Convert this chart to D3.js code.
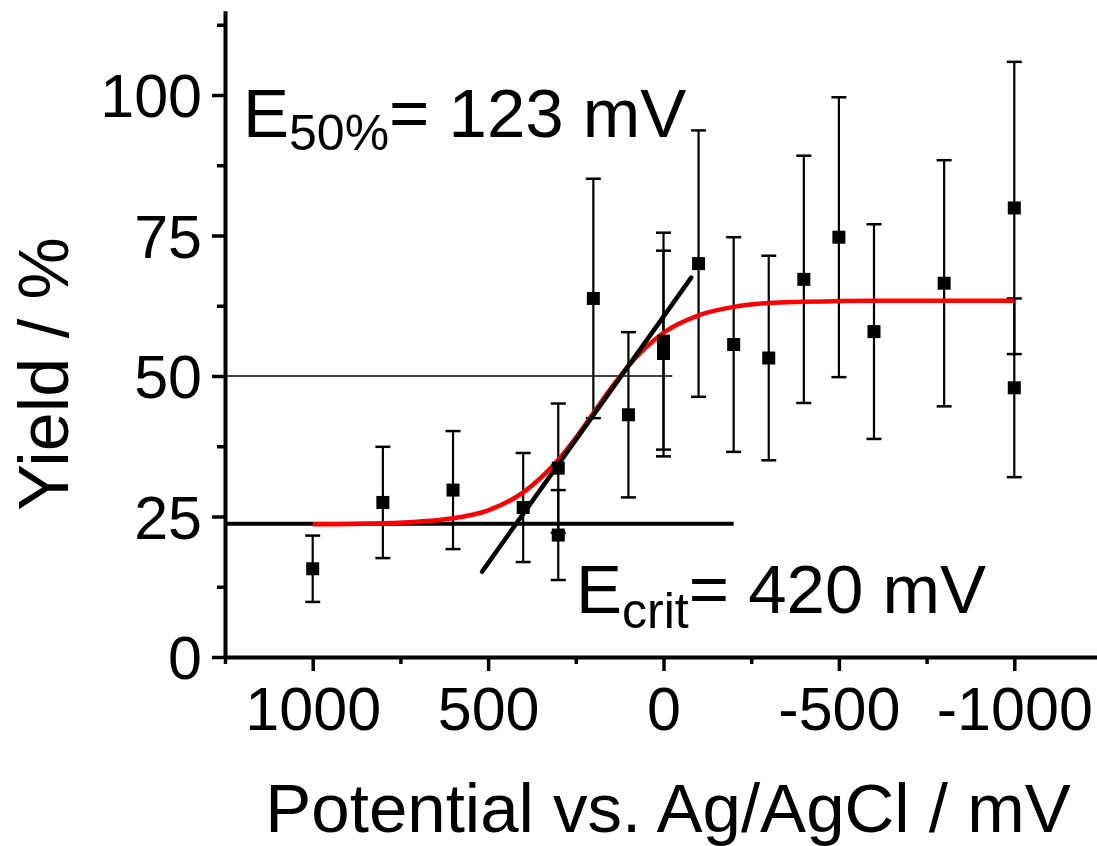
<!DOCTYPE html>
<html>
<head>
<meta charset="utf-8">
<script src="https://cdn.jsdelivr.net/npm/d3@7"></script>
<style>
  body { margin: 0; background: #fff; }
  svg { display: block; font-family: "Liberation Sans", Arial, sans-serif; }
</style>
</head>
<body>
<script>
// measured points (potential in mV, yield in %, symmetric error)
var potentials = [1000, 800, 600, 400, 300, 300, 200, 100, 0, 0, -100, -200, -300, -400, -500, -600, -800, -1000, -1000];
var yields     = [15.7, 27.5, 29.7, 26.6, 33.6, 21.7, 63.8, 43.1, 56.2, 54.0, 70.0, 55.6, 53.2, 67.2, 74.7, 57.9, 66.5, 79.9, 47.9];
var errors     = [5.9, 9.9, 10.5, 9.7, 11.5, 8.0, 21.3, 14.7, 19.3, 18.3, 23.7, 19.1, 18.2, 22.0, 24.9, 19.1, 21.9, 26.0, 15.9];

// red fit curve
var fitPotential = [1000, 800, 600, 500, 400, 300, 250, 200, 150, 100, 50, 0, -100, -200, -300, -400, -600, -800, -1000];
var fitYield     = [23.6, 23.8, 24.7, 26.1, 29.3, 35.1, 39.0, 43.4, 47.8, 51.8, 55.1, 57.7, 60.8, 62.3, 63.0, 63.2, 63.4, 63.4, 63.4];

// helper lines
var tangentPotential = [517, -79];
var tangentYield     = [15.2, 67.5];
var basePotential = [1250, -200];
var baseYield     = [23.7, 23.7];
var halfPotential = [1250, -25];
var halfYield     = [50, 50];

var xMajor = [1000, 500, 0, -500, -1000];
var xMinor = [1250, 750, 250, -250, -750, -1250];
var yMajor = [0, 25, 50, 75, 100];
var yMinor = [12.5, 37.5, 62.5, 87.5, 112.5];

var width = 1097, height = 846;

var svg = d3.select("body")
    .append("svg")
    .attr("width", width)
    .attr("height", height);

var xscale = d3.scaleLinear().domain([1250, -1250]).range([225, 1102]);
var yscale = d3.scaleLinear().domain([0, 115]).range([657, 10.7]);

// minor ticks
svg.append("g")
    .attr("transform", "translate(0,657)")
    .call(d3.axisBottom(xscale).tickValues(xMinor).tickSize(7).tickSizeOuter(0).tickFormat(""))
    .call(g => g.select(".domain").remove());
svg.append("g")
    .attr("transform", "translate(225,0)")
    .call(d3.axisLeft(yscale).tickValues(yMinor).tickSize(8).tickSizeOuter(0).tickFormat(""))
    .call(g => g.select(".domain").remove());

// x-axis
var gx = svg.append("g")
    .attr("transform", "translate(0,657)")
    .call(d3.axisBottom(xscale).tickValues(xMajor).tickSize(14).tickSizeOuter(0).tickPadding(16)
        .tickFormat(d => String(d)));
gx.selectAll("text").attr("font-size", 61).attr("font-family", "Liberation Sans, Arial, sans-serif");

// y-axis
var gy = svg.append("g")
    .attr("transform", "translate(225,0)")
    .call(d3.axisLeft(yscale).tickValues(yMajor).tickSize(13).tickSizeOuter(0).tickPadding(10)
        .tickFormat(d => String(d)));
gy.selectAll("text").attr("font-size", 61).attr("dy", "0.36em").attr("font-family", "Liberation Sans, Arial, sans-serif");

svg.selectAll(".domain").attr("stroke-width", 4);
svg.selectAll(".tick line").attr("stroke-width", 3.5);

var line = d3.line()
    .x(d => xscale(d[0]))
    .y(d => yscale(d[1]));

// 50 % line
svg.append("path")
    .datum(d3.zip(halfPotential, halfYield))
    .attr("fill", "none").attr("stroke", "#000").attr("stroke-width", 1.6)
    .attr("d", line);

// error bars
var pts = potentials.map((p, i) => ({p: p, y: yields[i], e: errors[i]}));
var bars = svg.append("g").attr("stroke", "#000");
bars.selectAll(".eb").data(pts).enter().append("line")
    .attr("x1", d => xscale(d.p)).attr("x2", d => xscale(d.p))
    .attr("y1", d => yscale(d.y - d.e)).attr("y2", d => yscale(d.y + d.e))
    .attr("stroke-width", 2.2);
bars.selectAll(".capt").data(pts).enter().append("line")
    .attr("x1", d => xscale(d.p) - 7.5).attr("x2", d => xscale(d.p) + 7.5)
    .attr("y1", d => yscale(d.y + d.e)).attr("y2", d => yscale(d.y + d.e))
    .attr("stroke-width", 2.5);
bars.selectAll(".capb").data(pts).enter().append("line")
    .attr("x1", d => xscale(d.p) - 7.5).attr("x2", d => xscale(d.p) + 7.5)
    .attr("y1", d => yscale(d.y - d.e)).attr("y2", d => yscale(d.y - d.e))
    .attr("stroke-width", 2.5);

// baseline
svg.append("path")
    .datum(d3.zip(basePotential, baseYield))
    .attr("fill", "none").attr("stroke", "#000").attr("stroke-width", 4)
    .attr("d", line);

// red fit
svg.append("path")
    .datum(d3.zip(fitPotential, fitYield))
    .attr("fill", "none").attr("stroke", "#ff0000").attr("stroke-width", 4.5)
    .attr("d", line.curve(d3.curveMonotoneX));
line.curve(d3.curveLinear);

// tangent
svg.append("path")
    .datum(d3.zip(tangentPotential, tangentYield))
    .attr("fill", "none").attr("stroke", "#000").attr("stroke-width", 4.5)
    .attr("stroke-linecap", "round")
    .attr("d", line);

// markers
svg.append("g").selectAll("rect").data(pts).enter().append("rect")
    .attr("x", d => xscale(d.p) - 6.5)
    .attr("y", d => yscale(d.y) - 6.5)
    .attr("width", 13).attr("height", 13)
    .attr("fill", "#000");

// annotations
var t1 = svg.append("text").attr("x", 243).attr("y", 137).attr("font-size", 69);
t1.append("tspan").text("E");
t1.append("tspan").attr("font-size", 50).attr("dy", 13).text("50%");
t1.append("tspan").attr("dy", -13).text("= 123 mV");

var t2 = svg.append("text").attr("x", 576).attr("y", 613).attr("font-size", 69);
t2.append("tspan").text("E");
t2.append("tspan").attr("font-size", 50).attr("dy", 15).text("crit");
t2.append("tspan").attr("dy", -15).text("= 420 mV");

// axis titles
svg.append("text")
    .attr("x", 668).attr("y", 832)
    .attr("text-anchor", "middle")
    .attr("font-size", 69)
    .text("Potential vs. Ag/AgCl / mV");

svg.append("text")
    .attr("transform", "translate(68,374) rotate(-90)")
    .attr("text-anchor", "middle")
    .attr("font-size", 70)
    .text("Yield / %");
</script>
</body>
</html>
